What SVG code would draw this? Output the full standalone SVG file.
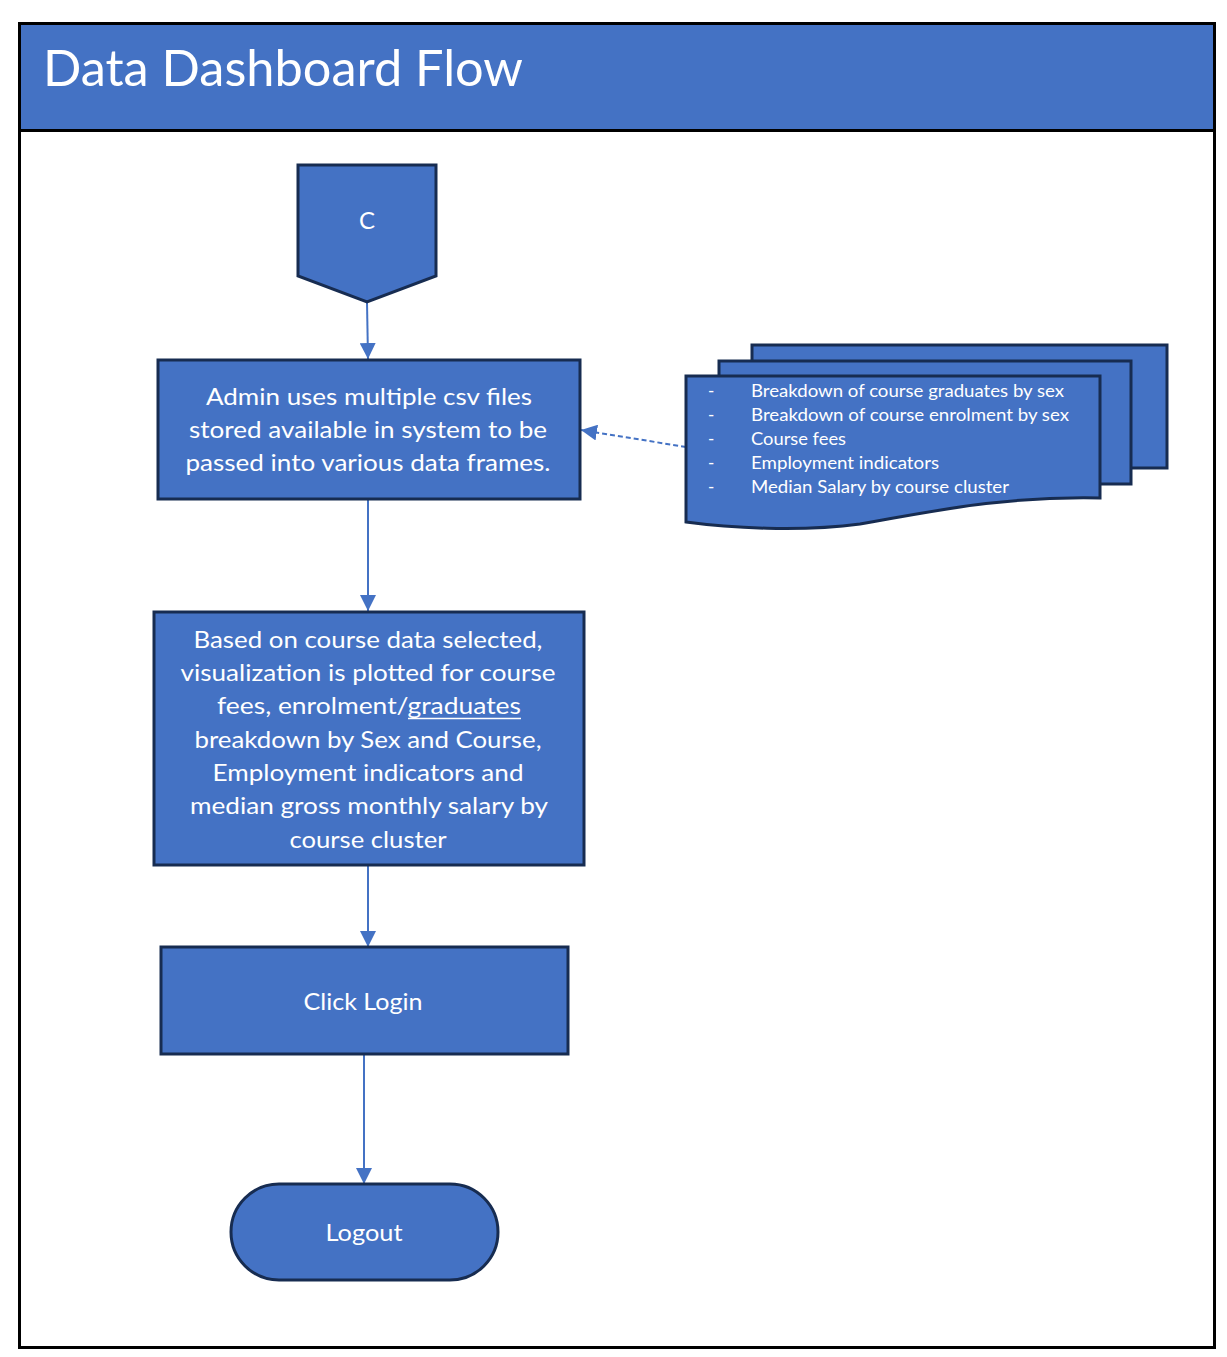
<svg xmlns="http://www.w3.org/2000/svg" width="1227" height="1357" viewBox="0 0 1227 1357">
<style>
.n{fill:#4472C4;stroke:#172C51;stroke-width:3}
.t{fill:#fff;font-family:Lato,"Open Sans",sans-serif;font-size:24px;text-anchor:middle}
.d{fill:#fff;font-family:Lato,"Open Sans",sans-serif;font-size:17px}
.c{fill:none;stroke:#4472C4;stroke-width:2}
</style>
<defs>
<marker id="ah" viewBox="0 0 16 16" refX="16" refY="8" markerWidth="16" markerHeight="16" markerUnits="userSpaceOnUse" orient="auto">
<path d="M0,0 L16,8 L0,16 Z" fill="#4472C4"/>
</marker>
</defs>
<rect x="0" y="0" width="1227" height="1357" fill="#fff"/>
<g id="frame">
<rect x="19.5" y="23.5" width="1195" height="1324" fill="#fff" stroke="#000" stroke-width="3"/>
<rect x="19.5" y="23.5" width="1195" height="107" fill="#4472C4" stroke="#000" stroke-width="3"/>
<text x="43" y="86" fill="#fff" font-family="Lato,'Open Sans',sans-serif" font-size="50" textLength="480" lengthAdjust="spacingAndGlyphs">Data Dashboard Flow</text>
</g>
<g id="connectors">
<line class="c" x1="367" y1="302" x2="368" y2="359" marker-end="url(#ah)"/>
<line class="c" x1="368" y1="500" x2="368" y2="611" marker-end="url(#ah)"/>
<line class="c" x1="368" y1="866" x2="368" y2="947" marker-end="url(#ah)"/>
<line class="c" x1="364" y1="1055" x2="364" y2="1184" marker-end="url(#ah)"/>
<line class="c" x1="686" y1="447" x2="581" y2="430" stroke-dasharray="5,3" marker-end="url(#ah)"/>
</g>
<g id="offpage-c">
<path class="n" d="M298,165 H436 V276 L367,302 L298,276 Z"/>
<text class="t" x="367" y="229">C</text>
</g>
<g id="admin">
<rect class="n" x="158" y="360" width="422" height="139"/>
<text class="t" x="369" y="405" textLength="326" lengthAdjust="spacingAndGlyphs">Admin uses multiple csv files</text>
<text class="t" x="368" y="438" textLength="358" lengthAdjust="spacingAndGlyphs">stored available in system to be</text>
<text class="t" x="368" y="471" textLength="365" lengthAdjust="spacingAndGlyphs">passed into various data frames.</text>
</g>
<g id="csv-docs">
<rect class="n" x="752" y="345" width="415" height="123"/>
<rect class="n" x="719" y="361" width="412" height="123"/>
<path class="n" d="M686,376 H1100 V498 C1000,496 930,512 860,524 C800,532 730,528 686,522 Z"/>
<g class="d">
<text x="708" y="397">-</text><text x="751" y="397" textLength="313" lengthAdjust="spacingAndGlyphs">Breakdown of course graduates by sex</text>
<text x="708" y="421">-</text><text x="751" y="421" textLength="318" lengthAdjust="spacingAndGlyphs">Breakdown of course enrolment by sex</text>
<text x="708" y="445">-</text><text x="751" y="445" textLength="95" lengthAdjust="spacingAndGlyphs">Course fees</text>
<text x="708" y="469">-</text><text x="751" y="469" textLength="188" lengthAdjust="spacingAndGlyphs">Employment indicators</text>
<text x="708" y="493">-</text><text x="751" y="493" textLength="258" lengthAdjust="spacingAndGlyphs">Median Salary by course cluster</text>
</g>
</g>
<g id="visualize">
<rect class="n" x="154" y="612" width="430" height="253"/>
<text class="t" x="368" y="648" textLength="349" lengthAdjust="spacingAndGlyphs">Based on course data selected,</text>
<text class="t" x="368" y="681" textLength="375" lengthAdjust="spacingAndGlyphs">visualization is plotted for course</text>
<text class="t" x="369" y="714" textLength="304" lengthAdjust="spacingAndGlyphs">fees, enrolment/graduates</text>
<line x1="408" y1="718.5" x2="521" y2="718.5" stroke="#fff" stroke-width="1.5"/>
<text class="t" x="368" y="748" textLength="347" lengthAdjust="spacingAndGlyphs">breakdown by Sex and Course,</text>
<text class="t" x="368" y="781" textLength="311" lengthAdjust="spacingAndGlyphs">Employment indicators and</text>
<text class="t" x="369" y="814" textLength="358" lengthAdjust="spacingAndGlyphs">median gross monthly salary by</text>
<text class="t" x="368" y="848" textLength="157" lengthAdjust="spacingAndGlyphs">course cluster</text>
</g>
<g id="click-login">
<rect class="n" x="161" y="947" width="407" height="107"/>
<text class="t" x="363" y="1010" textLength="119" lengthAdjust="spacingAndGlyphs">Click Login</text>
</g>
<g id="logout">
<rect class="n" x="231" y="1184" width="267" height="96" rx="48" ry="48"/>
<text class="t" x="364" y="1241" textLength="77" lengthAdjust="spacingAndGlyphs">Logout</text>
</g>
</svg>
